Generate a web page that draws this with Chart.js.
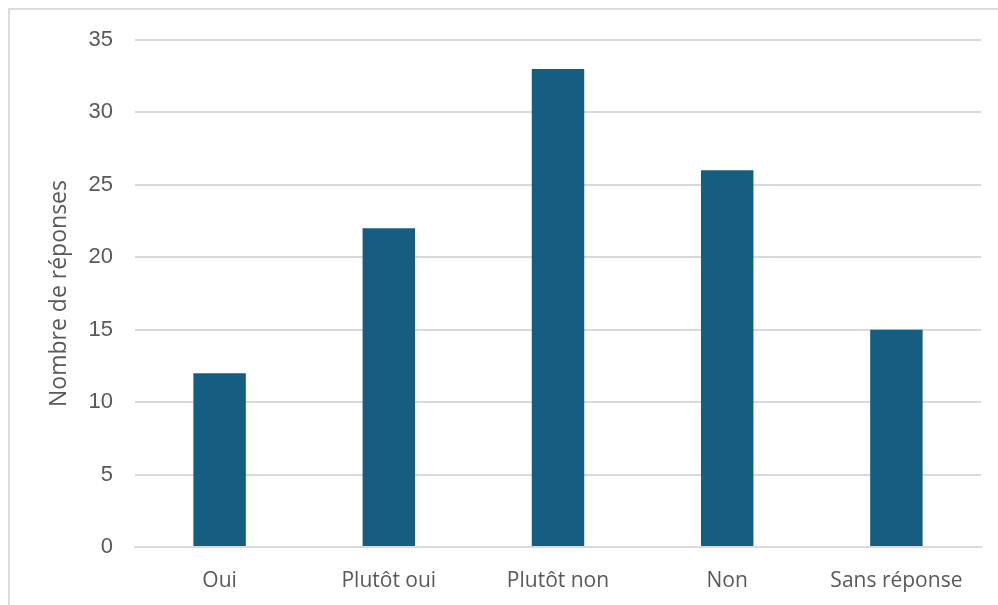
<!DOCTYPE html>
<html lang="fr">
  <head>
    <meta charset="UTF-8" />
    <title>Nombre de réponses</title>
    <script src="https://cdn.jsdelivr.net/npm/chart.js@4"></script>
    <style>
      body {
        margin: 0;
        background: #ffffff;
      }
      .wrap {
        position: relative;
        width: 998px;
        height: 605px;
      }
      .frame {
        position: absolute;
        left: 8px;
        top: 8px;
        right: 0;
        bottom: 0;
        border-top: 2px solid #dcdcdc;
        border-left: 2px solid #dcdcdc;
      }
    </style>
  </head>
  <body>
    <div class="wrap">
      <div class="frame"></div>
      <canvas id="chart" width="998" height="605"></canvas>
    </div>

    <script>
      const categories = ["Oui", "Plutôt oui", "Plutôt non", "Non", "Sans réponse"];
      const responses = [12, 22, 33, 26, 15];
      const yTicks = [0, 5, 10, 15, 20, 25, 30, 35];

      const textColor = "#595959";

      new Chart(document.getElementById("chart"), {
        type: "bar",
        data: {
          labels: categories,
          datasets: [
            {
              label: "Nombre de réponses",
              data: responses,
              backgroundColor: "#155e81",
              barPercentage: 0.31,
              categoryPercentage: 1,
            },
          ],
        },
        options: {
          responsive: false,
          animation: false,
          layout: { padding: { left: 42, right: 17, top: 40, bottom: 0 } },
          plugins: {
            legend: { display: false },
            tooltip: { enabled: false },
          },
          scales: {
            x: {
              grid: { display: false, drawTicks: false },
              border: { color: "#d9d9d9", width: 2 },
              ticks: {
                color: textColor,
                padding: 21,
                font: { family: "Open Sans", size: 21 },
              },
              afterFit: (s) => (s.height = 58),
            },
            y: {
              min: 0,
              max: 35,
              afterBuildTicks: (s) => (s.ticks = yTicks.map((v) => ({ value: v }))),
              grid: { color: "#d9d9d9", lineWidth: 2, drawTicks: false },
              border: { display: false },
              ticks: {
                color: textColor,
                padding: 22,
                font: { family: "Liberation Sans", size: 22 },
              },
              title: {
                display: true,
                text: "Nombre de réponses",
                color: textColor,
                font: { family: "Open Sans", size: 23 },
              },
              afterFit: (s) => (s.width = 93),
            },
          },
        },
      });
    </script>
  </body>
</html>
